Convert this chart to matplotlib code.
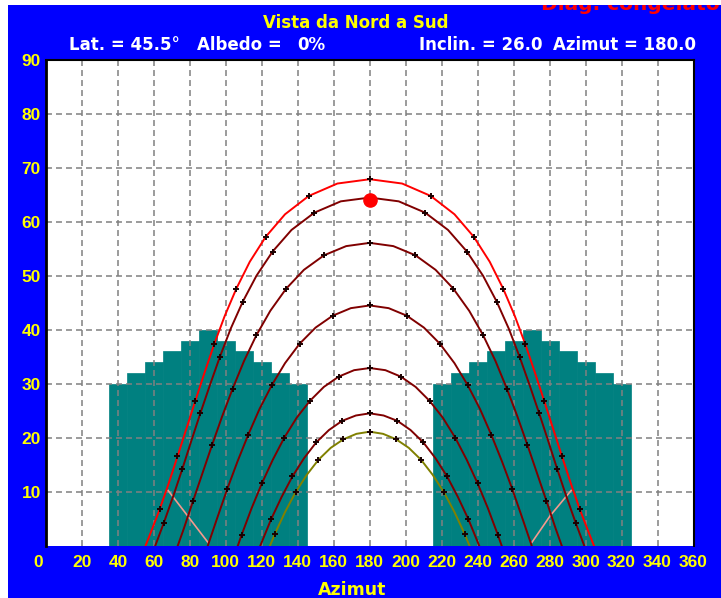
import matplotlib
matplotlib.use("Agg")
import matplotlib.pyplot as plt
from matplotlib.patches import Rectangle
from matplotlib.transforms import ScaledTranslation

plt.rcParams['font.family'] = ['Liberation Sans', 'DejaVu Sans']
plt.rcParams['font.weight'] = 'bold'
plt.rcParams['lines.scale_dashes'] = False

# horizon obstacles (azimuth centre of each 10 deg sector, height in deg)
obst_az = [40, 50, 60, 70, 80, 90, 100, 110, 120, 130, 140,
           220, 230, 240, 250, 260, 270, 280, 290, 300, 310, 320]
obst_el = [30, 32, 34, 36, 38, 40, 38, 36, 34, 32, 30,
           30, 32, 34, 36, 38, 40, 38, 36, 34, 32, 30]

# sun paths, half-hour steps from sunrise to sunset
jun_az = [55.4, 58.0, 63.2, 68.2, 73.1, 78.0, 83.0, 88.1, 93.5, 99.3, 105.8,
          113.3, 122.1, 132.9, 146.1, 162.0, 180.0, 198.0, 213.9, 227.1, 237.9,
          246.7, 254.2, 260.7, 266.5, 271.9, 277.0, 282.0, 286.9, 291.8, 296.8,
          302.0, 304.6]
jun_el = [0.0, 2.2, 6.7, 11.5, 16.5, 21.6, 26.8, 32.0, 37.3, 42.5, 47.6,
          52.6, 57.2, 61.4, 64.8, 67.1, 67.9, 67.1, 64.8, 61.4, 57.2,
          52.6, 47.6, 42.5, 37.3, 32.0, 26.8, 21.6, 16.5, 11.5, 6.7,
          2.2, 0.0]

may_az = [60.8, 65.5, 70.7, 75.7, 80.7, 85.8, 91.1, 96.7, 102.7, 109.4, 117.0,
          126.0, 136.5, 149.2, 163.9, 180.0, 196.1, 210.8, 223.5, 234.0, 243.0,
          250.6, 257.3, 263.3, 268.9, 274.2, 279.3, 284.3, 289.3, 294.5, 299.2]
may_el = [0.0, 4.2, 9.1, 14.1, 19.3, 24.5, 29.7, 35.0, 40.2, 45.2, 50.0,
          54.5, 58.5, 61.7, 63.8, 64.5, 63.8, 61.7, 58.5, 54.5, 50.0,
          45.2, 40.2, 35.0, 29.7, 24.5, 19.3, 14.1, 9.1, 4.2, 0.0]

apr_az = [73.3, 76.6, 81.8, 87.1, 92.4, 98.0, 103.8, 110.1, 117.0, 124.7, 133.5,
          143.4, 154.6, 166.9, 180.0, 193.1, 205.4, 216.6, 226.5, 235.3, 243.0,
          249.9, 256.2, 262.0, 267.6, 272.9, 278.2, 283.4, 286.7]
apr_el = [0.0, 3.1, 8.3, 13.5, 18.7, 24.0, 29.1, 34.2, 39.0, 43.5, 47.6,
          51.1, 53.8, 55.5, 56.1, 55.5, 53.8, 51.1, 47.6, 43.5, 39.0,
          34.2, 29.1, 24.0, 18.7, 13.5, 8.3, 3.1, 0.0]

mar_az = [90.0, 95.4, 100.8, 106.5, 112.4, 118.7, 125.5, 132.9, 141.0, 149.9,
          159.4, 169.5, 180.0, 190.5, 200.6, 210.1, 219.0, 227.1, 234.5, 241.3,
          247.6, 253.5, 259.2, 264.6, 270.0]
mar_el = [0.0, 5.3, 10.5, 15.6, 20.5, 25.3, 29.7, 33.8, 37.4, 40.4,
          42.6, 44.0, 44.5, 44.0, 42.6, 40.4, 37.4, 33.8, 29.7, 25.3,
          20.5, 15.6, 10.5, 5.3, 0.0]

feb_az = [106.7, 108.8, 114.3, 120.0, 126.1, 132.5, 139.4, 146.7, 154.5, 162.7,
          171.3, 180.0, 188.7, 197.3, 205.5, 213.3, 220.6, 227.5, 233.9, 240.0,
          245.7, 251.2, 253.3]
feb_el = [0.0, 2.0, 6.9, 11.5, 15.9, 20.0, 23.7, 26.8, 29.4, 31.3,
          32.5, 32.9, 32.5, 31.3, 29.4, 26.8, 23.7, 20.0, 15.9, 11.5,
          6.9, 2.0, 0.0]

jan_az = [119.2, 125.2, 131.0, 137.0, 143.5, 150.2, 157.3, 164.6, 172.3, 180.0,
          187.7, 195.4, 202.7, 209.8, 216.5, 223.0, 229.0, 234.8, 240.8]
jan_el = [0.0, 4.9, 9.0, 12.8, 16.2, 19.1, 21.4, 23.1, 24.1, 24.5,
          24.1, 23.1, 21.4, 19.1, 16.2, 12.8, 9.0, 4.9, 0.0]

dec_az = [124.6, 127.3, 132.9, 138.8, 145.0, 151.5, 158.3, 165.4, 172.6, 180.0,
          187.4, 194.6, 201.7, 208.5, 215.0, 221.2, 227.1, 232.7, 235.4]
dec_el = [0.0, 2.2, 6.2, 9.9, 13.1, 15.9, 18.1, 19.7, 20.7, 21.1,
          20.7, 19.7, 18.1, 15.9, 13.1, 9.9, 6.2, 2.2, 0.0]

# index of the first full-hour point in each path
paths = [
    (dec_az, dec_el, '#808000', 1),
    (jan_az, jan_el, '#800000', 1),
    (feb_az, feb_el, '#800000', 1),
    (mar_az, mar_el, '#800000', 2),
    (apr_az, apr_el, '#800000', 2),
    (may_az, may_el, '#800000', 1),
    (jun_az, jun_el, '#FF0000', 2),
]

shade_left_az = [67.9, 78.5, 90.2]
shade_left_el = [10.2, 5.6, 0.5]
shade_right_az = [270.2, 280.5, 292.0]
shade_right_el = [0.6, 5.6, 10.2]

sun_az = 180.0
sun_el = 64.0

W, H = 721, 598
fig = plt.figure(figsize=(W / 100, H / 100), dpi=100, facecolor='white')

def fx(px):
    return px / W

def fy(py):
    return 1 - py / H

fig.patches.append(Rectangle((fx(8), 0), fx(W - 8), fy(5), transform=fig.transFigure,
                             facecolor='#0000FF', edgecolor='none', zorder=-1))

ax = fig.add_axes([fx(46), fy(545.5), fx(647.5), (545.5 - 60) / H])
ax.set_facecolor('white')
ax.set_xlim(0, 360)
ax.set_ylim(0, 90)

ax.bar(obst_az, obst_el, width=10, color='#008080', edgecolor='#008080',
       linewidth=0.5, zorder=1)

grid_kw = dict(color='#808080', lw=1.1, dashes=(4.3, 2.9), zorder=1.5)
for v in range(20, 360, 20):
    ax.axvline(v, **grid_kw)
for v in range(10, 90, 10):
    ax.axhline(v, **grid_kw)

ax.plot(shade_left_az, shade_left_el, color='#F49A8E', lw=1.2, zorder=2)
ax.plot(shade_right_az, shade_right_el, color='#F49A8E', lw=1.2, zorder=2)

for az, el, col, first in paths:
    ax.plot(az, el, color=col, lw=1.4, zorder=3,
            marker='+', markersize=5, markeredgewidth=1.4,
            markeredgecolor='#1a0000', markevery=slice(first, -1, 2))

ax.plot([sun_az], [sun_el], 'o', color='#FF0000', markersize=9.5, zorder=4)

for side in ['left', 'top', 'right']:
    ax.spines[side].set_color('black')
ax.spines['left'].set_linewidth(2)
ax.spines['top'].set_linewidth(1.5)
ax.spines['right'].set_linewidth(1.5)
ax.spines['bottom'].set_visible(False)

ax.set_xticks(range(0, 361, 20))
ax.set_yticks(range(10, 91, 10))
ax.tick_params(axis='both', length=0, colors='#FFFF00', labelsize=12.5)
ax.tick_params(axis='x', pad=7)
ax.tick_params(axis='y', pad=3.6)
for lbl in ax.get_xticklabels() + ax.get_yticklabels():
    lbl.set_fontweight('bold')
zero = ax.get_xticklabels()[0]
zero.set_transform(zero.get_transform() + ScaledTranslation(-0.08, 0, fig.dpi_scale_trans))

hdr = dict(family=['DejaVu Sans'], fontweight='bold', fontsize=12)
fig.text(fx(356), fy(28.5), 'Vista da Nord a Sud', color='#FFFF00', ha='center', va='baseline', **hdr)
fig.text(fx(69), fy(50), 'Lat. = 45.5°', color='white', ha='left', va='baseline', **hdr)
fig.text(fx(197), fy(50), 'Albedo =', color='white', ha='left', va='baseline', **hdr)
fig.text(fx(325), fy(50), '0%', color='white', ha='right', va='baseline', **hdr)
fig.text(fx(419), fy(50), 'Inclin. = 26.0', color='white', ha='left', va='baseline', **hdr)
fig.text(fx(553), fy(50), 'Azimut = 180.0', color='white', ha='left', va='baseline', **hdr)
fig.text(fx(352), fy(595), 'Azimut', color='#FFFF00', ha='center', va='baseline',
         family=['DejaVu Sans'], fontweight='bold', fontsize=12.5)
fig.text(fx(541), fy(10.5), 'Diag. congelato', color='#FF0000', ha='left', va='baseline',
         family=['DejaVu Sans'], fontweight='bold', fontsize=14.5, zorder=3)
fig.patches.append(Rectangle((0, fy(5)), 1, 5 / H, transform=fig.transFigure,
                             facecolor='white', edgecolor='none', zorder=5))
fig.patches.append(Rectangle((0, 0), fx(8), 1, transform=fig.transFigure,
                             facecolor='white', edgecolor='none', zorder=5))

fig.savefig('out.png', dpi=100, facecolor='white')
